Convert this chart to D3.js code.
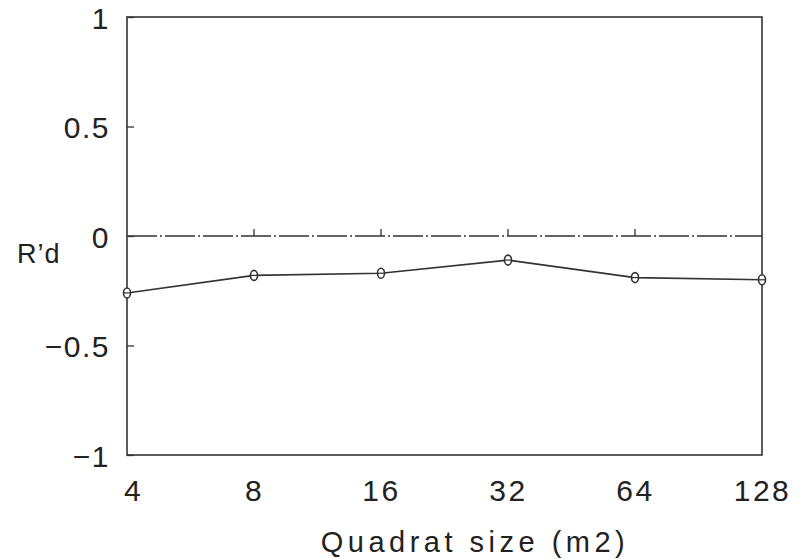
<!DOCTYPE html>
<html>
<head>
<meta charset="utf-8">
<title>R'd vs quadrat size</title>
<script src="https://d3js.org/d3.v7.min.js"></script>
<style>
  body { margin: 0; background: #fff; }
  text { font-family: "Liberation Sans", Arial, sans-serif; fill: #222; }
</style>
</head>
<body>
<div id="chart"></div>
<script>
// quadrat sizes (m2) and R'd values
const sizes = [4, 8, 16, 32, 64, 128];
const rd = [-0.26, -0.18, -0.17, -0.11, -0.19, -0.20];
const yTicks = [1, 0.5, 0, -0.5, -1];
const yTickLabels = ["1", "0.5", "0", "\u22120.5", "\u22121"];

const W = 800, H = 559;
const margin = {top: 17, right: 38, bottom: 104, left: 127};
const w = W - margin.left - margin.right;
const h = H - margin.top - margin.bottom;

const svg = d3.select("#chart").append("svg")
    .attr("width", W).attr("height", H);
const g = svg.append("g")
    .attr("transform", "translate(" + margin.left + "," + margin.top + ")");

const x = d3.scaleLog().base(2).domain([4, 128]).range([0, w]);
const y = d3.scaleLinear().domain([-1, 1]).range([h, 0]);

// frame
g.append("rect")
    .attr("width", w).attr("height", h)
    .attr("fill", "none").attr("stroke", "#333").attr("stroke-width", 1.6);

// y axis: inward ticks, big labels
const yAxis = d3.axisLeft(y).tickValues(yTicks).tickSize(-7)
    .tickFormat((d, i) => yTickLabels[i]).tickPadding(17);
const ya = g.append("g").call(yAxis);
ya.select(".domain").remove();
ya.selectAll("line").attr("stroke", "#333").attr("stroke-width", 1.3);
ya.selectAll("text").attr("font-size", 30).attr("letter-spacing", 1.5).attr("fill", "#222")
    .attr("dy", "0.38em");

// zero line, dash-dot
g.append("line")
    .attr("x1", 0).attr("x2", w)
    .attr("y1", y(0)).attr("y2", y(0))
    .attr("stroke", "#333").attr("stroke-width", 1.3)
    .attr("stroke-dasharray", "30,3,2,3");

// x ticks sit on the zero line, pointing up
g.append("g").selectAll("line")
    .data(sizes.slice(1, -1)).join("line")
    .attr("x1", d => x(d)).attr("x2", d => x(d))
    .attr("y1", y(0)).attr("y2", y(0) - 7)
    .attr("stroke", "#333").attr("stroke-width", 1.3);

// x labels under the frame
const xAxis = d3.axisBottom(x).tickValues(sizes).tickSize(0)
    .tickFormat(d3.format("d")).tickPadding(25);
const xa = g.append("g").attr("transform", "translate(0," + h + ")").call(xAxis);
xa.select(".domain").remove();
xa.selectAll("text").attr("font-size", 30).attr("letter-spacing", 2.5).attr("fill", "#222");
xa.selectAll(".tick").filter(d => d === 4)
    .select("text").attr("dx", 6);

// series
const data = sizes.map((s, i) => ({s: s, v: rd[i]}));
g.append("path")
    .datum(data)
    .attr("fill", "none").attr("stroke", "#333").attr("stroke-width", 1.6)
    .attr("d", d3.line().x(d => x(d.s)).y(d => y(d.v)));

const pts = g.selectAll("g.pt")
    .data(data).join("g")
    .attr("class", "pt")
    .attr("transform", d => "translate(" + x(d.s) + "," + y(d.v) + ")");
pts.append("ellipse")
    .attr("rx", 3.5).attr("ry", 5)
    .attr("fill", "#fff").attr("stroke", "#333").attr("stroke-width", 1.6);
pts.append("line")
    .attr("x1", -3.5).attr("x2", 3.5)
    .attr("stroke", "#333").attr("stroke-width", 1.2);

// axis titles
svg.append("text")
    .attr("x", 17).attr("y", y(0) + margin.top + 27)
    .attr("font-size", 27).attr("letter-spacing", 1)
    .text("R\u2019d");

svg.append("text")
    .attr("x", 475).attr("y", 552)
    .attr("text-anchor", "middle")
    .attr("font-size", 29).attr("letter-spacing", 4.5)
    .text("Quadrat size (m2)");
</script>
</body>
</html>
